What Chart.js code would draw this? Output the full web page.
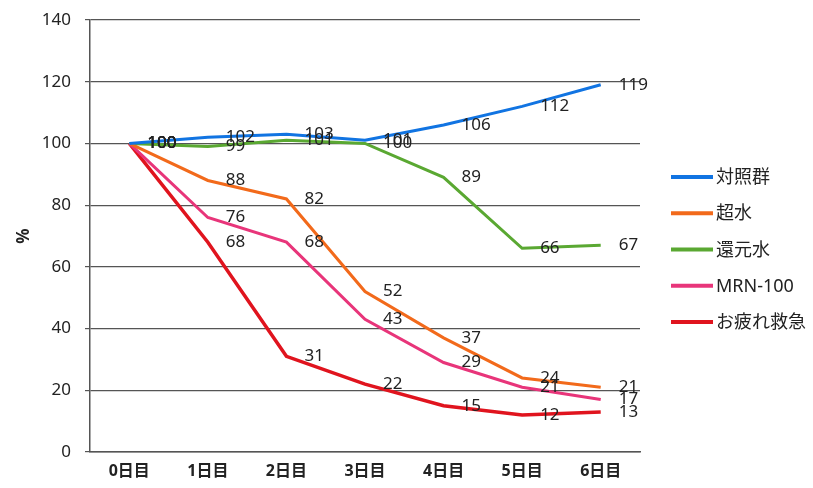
<!DOCTYPE html>
<html>
<head>
<meta charset="utf-8">
<script src="https://cdn.jsdelivr.net/npm/chart.js@4"></script>
<style>
  html, body { margin: 0; padding: 0; background: #fff; }
  #wrap { width: 813px; height: 488px; }
</style>
</head>
<body>
<div id="wrap"><canvas id="chart" width="813" height="488"></canvas></div>
<script>
// data
const days = ['0日目', '1日目', '2日目', '3日目', '4日目', '5日目', '6日目'];
const control = [100, 102, 103, 101, 106, 112, 119];
const superWater = [100, 88, 82, 52, 37, 24, 21];
const reducedWater = [100, 99, 101, 100, 89, 66, 67];
const mrn100 = [100, 76, 68, 43, 29, 21, 17];
const otsukare = [100, 68, 31, 22, 15, 12, 13];
const yTicks = [0, 20, 40, 60, 80, 100, 120, 140];

const FONT = '"Noto Sans", "Noto Sans CJK JP", sans-serif';

const makeSet = (label, data, color, width) => ({
    label: label,
    data: data,
    borderColor: color,
    backgroundColor: color,
    borderWidth: width,
    pointRadius: 0,
    tension: 0
});

// value labels to the right of each point
const valueLabels = {
    id: 'valueLabels',
    afterDatasetsDraw(chart) {
        const ctx = chart.ctx;
        ctx.save();
        ctx.font = '17px ' + FONT;
        ctx.fillStyle = '#222';
        ctx.textBaseline = 'middle';
        ctx.textAlign = 'left';
        chart.data.datasets.forEach((ds, i) => {
            const meta = chart.getDatasetMeta(i);
            meta.data.forEach((pt, j) => {
                ctx.fillText(String(ds.data[j]), pt.x + 18, pt.y);
            });
        });
        ctx.restore();
    }
};

// legend on the right, drawn from the datasets
const sideLegend = {
    id: 'sideLegend',
    afterDraw(chart) {
        const ctx = chart.ctx;
        const x = chart.chartArea.right + 31;
        const top = 177;
        const row = 36.25;
        ctx.save();
        ctx.font = '18px ' + FONT;
        ctx.textBaseline = 'middle';
        ctx.textAlign = 'left';
        chart.data.datasets.forEach((ds, i) => {
            const y = top + i * row;
            ctx.strokeStyle = ds.borderColor;
            ctx.lineWidth = 4;
            ctx.beginPath();
            ctx.moveTo(x, y);
            ctx.lineTo(x + 42, y);
            ctx.stroke();
            ctx.fillStyle = '#222';
            ctx.fillText(ds.label, x + 45, y + 1);
        });
        ctx.restore();
    }
};

const ctx = document.getElementById('chart').getContext('2d');
new Chart(ctx, {
    type: 'line',
    data: {
        labels: days,
        datasets: [
            makeSet('対照群', control, '#1174e2', 3),
            makeSet('超水', superWater, '#f26a1b', 3),
            makeSet('還元水', reducedWater, '#5aa832', 3),
            makeSet('MRN-100', mrn100, '#e8357a', 3),
            makeSet('お疲れ救急', otsukare, '#e0141e', 3.5)
        ]
    },
    options: {
        responsive: false,
        animation: false,
        layout: {
            padding: { top: 20, right: 173, bottom: 2, left: 6 }
        },
        plugins: {
            legend: { display: false },
            tooltip: { enabled: false }
        },
        scales: {
            x: {
                offset: true,
                afterFit: (axis) => { axis.height = 34; },
                grid: { display: false, drawTicks: false },
                border: { color: '#555', width: 1.5 },
                ticks: {
                    color: '#222',
                    padding: 10,
                    font: { size: 16, weight: 'bold', family: FONT }
                }
            },
            y: {
                min: 0,
                max: 140,
                afterFit: (axis) => {
                    axis.width = 84;
                    axis.paddingTop = 0;
                    axis.paddingBottom = 0;
                },
                afterBuildTicks: (axis) => {
                    axis.ticks = yTicks.map(v => ({ value: v }));
                },
                grid: { color: '#555', lineWidth: 1.2, tickLength: 5 },
                border: { color: '#555', width: 1.5 },
                ticks: {
                    color: '#222',
                    padding: 14,
                    font: { size: 17, family: FONT }
                },
                title: {
                    display: true,
                    text: '%',
                    color: '#222',
                    padding: { top: 8, bottom: 0 },
                    font: { size: 17, weight: 'bold', family: FONT }
                }
            }
        }
    },
    plugins: [valueLabels, sideLegend]
});
</script>
</body>
</html>
